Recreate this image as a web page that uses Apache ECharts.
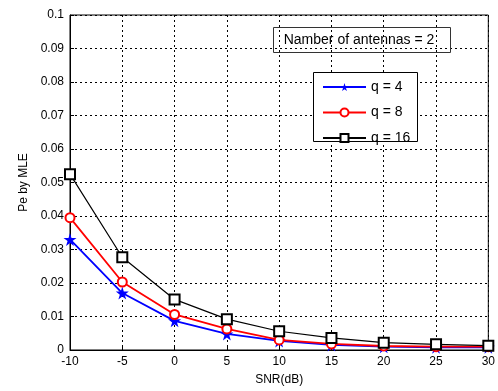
<!DOCTYPE html>
<html>
<head>
<meta charset="utf-8">
<script src="https://cdn.jsdelivr.net/npm/echarts@6/dist/echarts.min.js"></script>
<style>
  html, body { margin: 0; padding: 0; background: #fff; }
  #chart { width: 498px; height: 391px; }
</style>
</head>
<body>
<div id="chart"></div>
<script>
const snr = [-10, -5, 0, 5, 10, 15, 20, 25, 30];
const q4 = [0.033, 0.017, 0.0087, 0.0048, 0.0027, 0.0015, 0.001, 0.0008, 0.0008];
const q8 = [0.0395, 0.0203, 0.0106, 0.0063, 0.003, 0.0018, 0.0012, 0.001, 0.001];
const q16 = [0.0525, 0.0277, 0.0151, 0.0092, 0.0056, 0.0036, 0.0022, 0.0017, 0.0013];
const seriesNames = ['q = 4', 'q = 8', 'q = 16'];

const starPath = 'path://M50,0 L61,35 L98,35 L68,57 L79,91 L50,70 L21,91 L32,57 L2,35 L39,35 Z';
const font = 'Liberation Sans, Arial, sans-serif';

const pairs = (ys) => snr.map((x, i) => [x, ys[i]]);

const chart = echarts.init(document.getElementById('chart'), null, { renderer: 'canvas' });

const axisCommon = {
  nameLocation: 'middle',
  nameTextStyle: { fontFamily: font, fontSize: 12, color: '#000' },
  axisLine: { show: true, onZero: false, lineStyle: { color: '#000' } },
  axisTick: { show: true, inside: true, length: 4, lineStyle: { color: '#000' } },
  axisLabel: { fontFamily: font, fontSize: 12, color: '#000', margin: 6 },
  splitLine: { show: true, lineStyle: { color: '#000', type: [2, 3], width: 1 } }
};

const option = {
  animation: false,
  backgroundColor: '#fff',
  grid: {
    left: 70, right: 9, top: 15, bottom: 40,
    show: true, borderColor: '#000', borderWidth: 1, backgroundColor: 'transparent'
  },
  legend: {
    left: 322, top: 80, z: 20, padding: 0,
    orient: 'vertical',
    itemWidth: 43, itemHeight: 10, itemGap: 11.5,
    textStyle: { fontFamily: font, fontSize: 14, color: '#000' },
    data: seriesNames
  },
  xAxis: Object.assign({}, axisCommon, {
    type: 'value', min: -10, max: 30, interval: 5,
    name: 'SNR(dB)', nameGap: 24
  }),
  yAxis: Object.assign({}, axisCommon, {
    type: 'value', min: 0, max: 0.1, interval: 0.01,
    name: 'Pe by MLE', nameGap: 40
  }),
  series: [
    {
      name: seriesNames[0], type: 'line', data: pairs(q4),
      symbol: starPath, symbolSize: 13, showAllSymbol: true,
      lineStyle: { color: '#0000ff', width: 1.8 },
      itemStyle: { color: '#0000ff' }, z: 3
    },
    {
      name: seriesNames[1], type: 'line', data: pairs(q8),
      symbol: 'emptyCircle', symbolSize: 9, showAllSymbol: true,
      lineStyle: { color: '#ff0000', width: 1.8 },
      itemStyle: { color: '#ff0000', borderColor: '#ff0000', borderWidth: 1.5 }, z: 4
    },
    {
      name: seriesNames[2], type: 'line', data: pairs(q16),
      symbol: 'emptyRect', symbolSize: 10, showAllSymbol: true,
      lineStyle: { color: '#000', width: 1.2 },
      itemStyle: { color: '#000', borderColor: '#000', borderWidth: 1.5 }, z: 5
    }
  ],
  graphic: [
    {
      type: 'rect', z: 10, silent: true,
      shape: { x: 313.5, y: 72.5, width: 104, height: 69 },
      style: { fill: '#fff', stroke: '#000', lineWidth: 1 }
    },
    {
      type: 'rect', z: 10, silent: true,
      shape: { x: 273.5, y: 27.5, width: 177, height: 25 },
      style: { fill: 'transparent', stroke: '#333', lineWidth: 1 }
    },
    {
      type: 'text', z: 11, silent: true,
      x: 359, y: 40,
      style: {
        text: 'Namber of antennas = 2',
        font: '14px ' + font, fill: '#000',
        align: 'center', verticalAlign: 'middle'
      }
    }
  ]
};

chart.setOption(option);
</script>
</body>
</html>
